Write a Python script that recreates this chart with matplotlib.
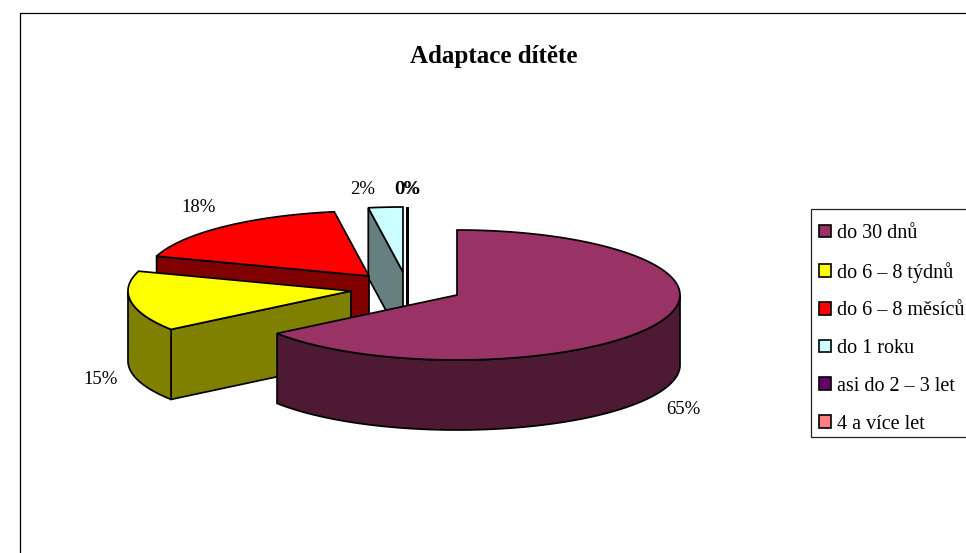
import numpy as np
import matplotlib
matplotlib.use("Agg")
import matplotlib.pyplot as plt
from matplotlib.patches import Patch, Rectangle

plt.rcParams['font.family'] = ['Liberation Serif', 'DejaVu Serif']

# data (labels round these)
categories = ["do 30 dnů", "do 6 – 8 týdnů", "do 6 – 8 měsíců", "do 1 roku", "asi do 2 – 3 let", "4 a více let"]
values = [65.0, 15.0, 17.6, 2.49, 0, 0]
chartTitle = "Adaptace dítěte"

# colours and layout
topColors = ["#993366", "#FFFF00", "#FF0000", "#CCFFFF", "#660066", "#FF8080"]
wallColors = ["#4D1933", "#808000", "#800000", "#668080", "#330033", "#804040"]
center = (457, 295)
rx, ry, depth = 223, 65, 70
explode = [(0, 0), (-106, -4), (-88, -19), (-54, -23), (-50, -23), (-49, -23)]
labelPos = [(683, 410), (101, 379), (199, 208), (363, 189), (407, 189), (408, 189)]
edgeWidth = 1.25


def arc(cx, cy, t0, t1, n=120):
    # angles in degrees, clockwise from 12 o'clock
    t = np.radians(np.linspace(t0, t1, n))
    return cx + rx * np.sin(t), cy - ry * np.cos(t)


def face(ax, xs, ys, color):
    xs = np.concatenate([xs, xs[::-1]])
    ys = np.concatenate([ys, ys[::-1] + depth])
    ax.fill(xs, ys, facecolor=color, edgecolor="black", lw=edgeWidth, joinstyle="miter")


fig = plt.figure(figsize=(9.66, 5.53), dpi=100)
ax = fig.add_axes([0, 0, 1, 1])
ax.set_xlim(0, 966)
ax.set_ylim(553, 0)
ax.axis("off")

# outer chart frame, runs off the image on the right and bottom
ax.plot([20, 20, 970], [560, 13, 13], color="black", lw=0.9)

ax.text(494, 57, chartTitle, ha="center", va="center", fontsize=18, fontweight="bold")

# slices, back ones first so the big one covers them
angles = np.cumsum([0] + values) / sum(values) * 360
for i in range(len(values) - 1, -1, -1):
    t0, t1 = angles[i], angles[i + 1]
    cx, cy = center[0] + explode[i][0], center[1] + explode[i][1]
    # cut face on the start side
    if np.sin(np.radians(t0)) < 0 or values[i] == 0:
        xe, ye = arc(cx, cy, t0, t0, 1)
        face(ax, np.array([cx, xe[0]]), np.array([cy, ye[0]]), wallColors[i])
    # cut face on the end side
    if np.sin(np.radians(t1)) > 1e-6:
        xe, ye = arc(cx, cy, t1, t1, 1)
        face(ax, np.array([cx, xe[0]]), np.array([cy, ye[0]]), wallColors[i])
    # rounded outer wall, front half only
    w0, w1 = max(t0, 90), min(t1, 270)
    if w1 > w0:
        xw, yw = arc(cx, cy, w0, w1)
        face(ax, xw, yw, wallColors[i])
    # top
    if values[i] > 0:
        xa, ya = arc(cx, cy, t0, t1)
        ax.fill(np.r_[cx, xa], np.r_[cy, ya], facecolor=topColors[i], edgecolor="black", lw=edgeWidth, joinstyle="miter")

for v, (lx, ly) in zip(values, labelPos):
    ax.text(lx, ly, f"{v:.0f}%", ha="center", va="center", fontsize=13.5)

# legend box is cut off by the image edge, so the frame is drawn apart
ax.add_patch(Rectangle((811, 209), 170, 228, facecolor="white", edgecolor="#222222", lw=0.9, zorder=4))
handles = [Patch(facecolor=c, edgecolor="black", lw=1.2) for c in topColors]
leg = ax.legend(handles, categories, loc="upper left", bbox_to_anchor=(819, 224), bbox_transform=ax.transData,
                fontsize=14.5, frameon=False, handlelength=0.6, handleheight=0.6, handletextpad=0.3,
                labelspacing=0.93, borderpad=0, borderaxespad=0)
leg.set_zorder(5)

fig.savefig("out.png", dpi=100)
